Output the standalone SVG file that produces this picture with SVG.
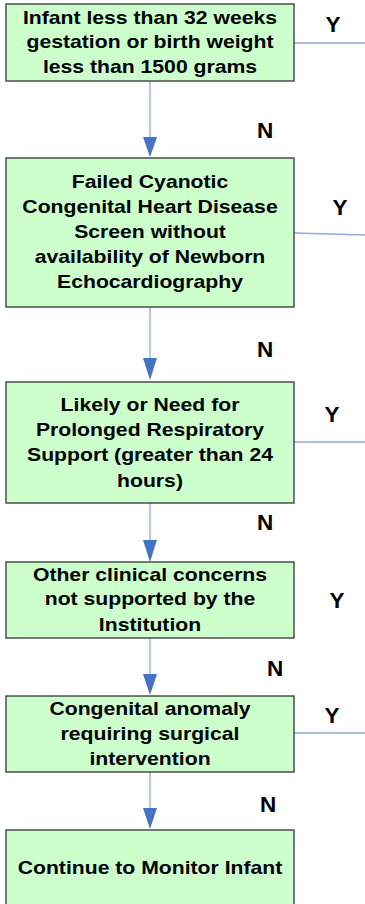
<svg xmlns="http://www.w3.org/2000/svg" width="365" height="904" viewBox="0 0 365 904">
<defs>
<style>
.box{fill:#CCFFCC;stroke:#333333;stroke-width:1.3}
.t{font-family:"Liberation Sans",Arial,sans-serif;font-weight:bold;font-size:19px;fill:#000;text-anchor:middle}
.lbl{font-family:"Liberation Sans",Arial,sans-serif;font-weight:bold;font-size:22.5px;fill:#000;text-anchor:middle}
.ln{stroke:#8EA9DB;stroke-width:1.3;fill:none}
.ah{fill:#4472C4}
</style>
</defs>
<rect width="365" height="904" fill="#ffffff"/>
<g id="connectors">
<line class="ln" x1="294" y1="43" x2="365" y2="43"/>
<line class="ln" x1="294" y1="233" x2="365" y2="235"/>
<line class="ln" x1="294" y1="442" x2="365" y2="442"/>
<line class="ln" x1="294" y1="733" x2="365" y2="733"/>
<line class="ln" x1="150" y1="81" x2="150" y2="140"/>
<polygon class="ah" points="143,137 157,137 150,157"/>
<line class="ln" x1="150" y1="307" x2="150" y2="360"/>
<polygon class="ah" points="143,358 157,358 150,380"/>
<line class="ln" x1="150" y1="503" x2="150" y2="542"/>
<polygon class="ah" points="143,540 157,540 150,562"/>
<line class="ln" x1="150" y1="638" x2="150" y2="676"/>
<polygon class="ah" points="143,674 157,674 150,695"/>
<line class="ln" x1="150" y1="772" x2="150" y2="810"/>
<polygon class="ah" points="143,808 157,808 150,829"/>
<text class="lbl" x="333" y="32">Y</text>
<text class="lbl" x="265" y="138">N</text>
<text class="lbl" x="340" y="215">Y</text>
<text class="lbl" x="265" y="357">N</text>
<text class="lbl" x="332" y="422">Y</text>
<text class="lbl" x="265" y="530">N</text>
<text class="lbl" x="337" y="608">Y</text>
<text class="lbl" x="275" y="676">N</text>
<text class="lbl" x="332" y="723">Y</text>
<text class="lbl" x="268" y="812">N</text>
</g>
<g id="node1">
<rect class="box" x="6" y="4" width="288" height="77"/>
<g transform="translate(150 0) scale(1.115 1)">
<text class="t" x="0" y="24">Infant less than 32 weeks</text>
<text class="t" x="0" y="48">gestation or birth weight</text>
<text class="t" x="0" y="73">less than 1500 grams</text>
</g>
</g>
<g id="node2">
<rect class="box" x="6" y="158" width="288" height="149"/>
<g transform="translate(150 0) scale(1.115 1)">
<text class="t" x="0" y="188">Failed Cyanotic</text>
<text class="t" x="0" y="213">Congenital Heart Disease</text>
<text class="t" x="0" y="238">Screen without</text>
<text class="t" x="0" y="263">availability of Newborn</text>
<text class="t" x="0" y="288">Echocardiography</text>
</g>
</g>
<g id="node3">
<rect class="box" x="6" y="382" width="288" height="121"/>
<g transform="translate(150 0) scale(1.115 1)">
<text class="t" x="0" y="411">Likely or Need for</text>
<text class="t" x="0" y="436">Prolonged Respiratory</text>
<text class="t" x="0" y="461">Support (greater than 24</text>
<text class="t" x="0" y="487">hours)</text>
</g>
</g>
<g id="node4">
<rect class="box" x="6" y="562" width="288" height="76"/>
<g transform="translate(150 0) scale(1.115 1)">
<text class="t" x="0" y="581">Other clinical concerns</text>
<text class="t" x="0" y="605">not supported by the</text>
<text class="t" x="0" y="631">Institution</text>
</g>
</g>
<g id="node5">
<rect class="box" x="6" y="696" width="288" height="76"/>
<g transform="translate(150 0) scale(1.115 1)">
<text class="t" x="0" y="715">Congenital anomaly</text>
<text class="t" x="0" y="740">requiring surgical</text>
<text class="t" x="0" y="765">intervention</text>
</g>
</g>
<g id="node6">
<rect class="box" x="6" y="830" width="288" height="80"/>
<g transform="translate(150 0) scale(1.115 1)">
<text class="t" x="0" y="874">Continue to Monitor Infant</text>
</g>
</g>
</svg>
